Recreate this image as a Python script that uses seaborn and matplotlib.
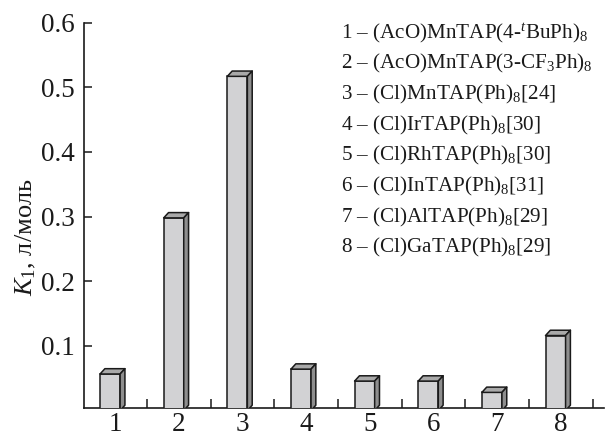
import matplotlib
matplotlib.use("Agg")
import matplotlib.pyplot as plt
from matplotlib.ticker import FixedLocator, NullFormatter
import seaborn as sns
import pandas as pd

# Catalyst number and first-stage constant K1 (l/mol)
categories = ["1", "2", "3", "4", "5", "6", "7", "8"]
k1_values = [0.0565, 0.298, 0.517, 0.064, 0.0455, 0.0455, 0.028, 0.116]
compound_labels = [
    r"1 – (AcO)MnTAP(4-$^{t}$BuPh)$_{8}$",
    r"2 – (AcO)MnTAP(3-CF$_{3}$Ph)$_{8}$",
    r"3 – (Cl)MnTAP(Ph)$_{8}$[24]",
    r"4 – (Cl)IrTAP(Ph)$_{8}$[30]",
    r"5 – (Cl)RhTAP(Ph)$_{8}$[30]",
    r"6 – (Cl)InTAP(Ph)$_{8}$[31]",
    r"7 – (Cl)AlTAP(Ph)$_{8}$[29]",
    r"8 – (Cl)GaTAP(Ph)$_{8}$[29]",
]
y_ticks = [0.1, 0.2, 0.3, 0.4, 0.5, 0.6]
y_ticklabels = ["0.1", "0.2", "0.3", "0.4", "0.5", "0.6"]

sns.set_theme(style="white")
plt.rcParams["font.family"] = ["Liberation Serif", "DejaVu Serif"]
plt.rcParams["mathtext.fontset"] = "custom"
plt.rcParams["mathtext.rm"] = "Liberation Serif"
plt.rcParams["mathtext.it"] = "Liberation Serif:italic"
plt.rcParams["mathtext.bf"] = "Liberation Serif:bold"

df = pd.DataFrame({"cat": categories, "k1": k1_values})

fig = plt.figure(figsize=(6.06, 4.34), dpi=100)
ax = fig.add_axes([0.1378, 0.0592, 0.8590, 0.8885])

FRONT = "#d2d2d4"
TOP = "#a9a9a9"
SIDE = "#8e8e8e"
EDGE = "#1a1a1a"
LW = 1.1

sns.barplot(data=df, x="cat", y="k1", color=FRONT, saturation=1,
            width=0.315, edgecolor=EDGE, linewidth=LW, ax=ax, zorder=3)

# pseudo-3D: shift front faces left and add top and side faces
dx, dy = 0.076, 0.0082
for patch in ax.patches[: len(categories)]:
    patch.set_x(patch.get_x() - 0.0825)
    x0 = patch.get_x()
    x1 = x0 + patch.get_width()
    y0 = patch.get_y()
    y1 = y0 + patch.get_height()
    ax.fill([x0, x0 + dx, x1 + dx, x1], [y1, y1 + dy, y1 + dy, y1],
            facecolor=TOP, edgecolor=EDGE, linewidth=LW, zorder=3,
            joinstyle="round")
    ax.fill([x1, x1 + dx, x1 + dx, x1], [y0, y0 + dy, y1 + dy, y1],
            facecolor=SIDE, edgecolor=EDGE, linewidth=LW, zorder=3,
            joinstyle="round")

ax.set_xlim(-0.5, 7.68)
ax.set_ylim(0.0034, 0.6)

for side in ("top", "right"):
    ax.spines[side].set_visible(False)
for side in ("left", "bottom"):
    ax.spines[side].set_color("#1a1a1a")
    ax.spines[side].set_linewidth(1.2)

ax.set_yticks(y_ticks)
ax.set_yticklabels(y_ticklabels)
ax.tick_params(axis="y", direction="in", length=8 * 0.72, width=1.1,
               color="#1a1a1a", labelsize=19.5, pad=6, left=True,
               labelcolor="#1a1a1a")

ax.set_xticks(range(len(categories)))
ax.set_xticklabels(categories)
ax.xaxis.set_minor_locator(FixedLocator([i + 0.5 for i in range(len(categories))]))
ax.xaxis.set_minor_formatter(NullFormatter())
ax.tick_params(axis="x", which="major", length=0, labelsize=19.5, pad=3,
               labelcolor="#1a1a1a")
ax.tick_params(axis="x", which="minor", direction="in", length=9 * 0.72,
               width=1.1, color="#1a1a1a", bottom=True)
ax.set_xlabel("")
ax.set_ylabel("")

fig.text(26 / 606, 1 - 237 / 434, r"$K_1$, л/моль", rotation=90,
         ha="center", va="center", fontsize=19, color="#1a1a1a")

for i, lab in enumerate(compound_labels):
    yb = 38 + i * 30.7
    fig.text(341 / 606, 1 - yb / 434, lab, ha="left", va="baseline",
             fontsize=15.2, color="#1a1a1a")

fig.savefig("out.png", dpi=100, facecolor="white")
